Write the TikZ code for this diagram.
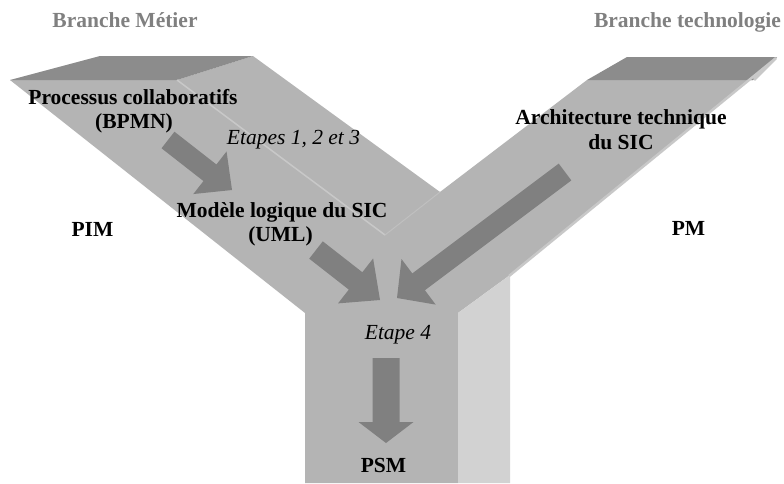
\documentclass[tikz,border=0pt]{standalone}
\usepackage{fontspec}
\setmainfont{Liberation Serif}
\usetikzlibrary{calc}
\definecolor{frontgray}{RGB}{180,180,180}
\definecolor{topgray}{RGB}{140,140,140}
\definecolor{sidegray}{RGB}{210,210,210}
\definecolor{ridgegray}{RGB}{200,200,200}
\definecolor{arrowgray}{RGB}{128,128,128}
\definecolor{headgray}{RGB}{128,128,128}
\newcommand\blockarrow[5]{% tail, tip, shaft half width, head half width, head length
  \coordinate (ba-n) at ($(#2)!#5!(#1)$);
  \fill[arrowgray] ($(#1)!#3!90:(#2)$) -- ($(ba-n)!#3!90:(#2)$) -- ($(ba-n)!#4!90:(#2)$)
    -- (#2) -- ($(ba-n)!#4!-90:(#2)$) -- ($(ba-n)!#3!-90:(#2)$) -- ($(#1)!#3!-90:(#2)$) -- cycle;
}
\begin{document}
\begin{tikzpicture}[x=1pt,y=-1pt,
  lbl/.style={inner sep=0pt, anchor=base, font=\fontsize{21.5pt}{24pt}\selectfont\bfseries},
  itlbl/.style={inner sep=0pt, anchor=base, font=\fontsize{21.5pt}{24pt}\selectfont\itshape},
  hdr/.style={lbl, text=headgray}]
\useasboundingbox (0,0) rectangle (784,483);
\fill[white] (0,0) rectangle (784,483);
% Y shape front faces
\fill[frontgray] (10,80) -- (177,80) -- (253,56) -- (440,192) -- (587,80) -- (753,80) -- (777,57)
  -- (510,275) -- (458,313) -- (458,483) -- (305,483) -- (305,313) -- cycle;
% top faces
\fill[topgray] (10,80) -- (100,56) -- (253,56) -- (177,80) -- cycle;
\fill[topgray] (587,80) -- (627,57) -- (777,57) -- (753,80) -- cycle;
% side face of stem
\fill[sidegray] (458,313) -- (510,275) -- (510,483) -- (458,483) -- cycle;
% edges
\draw[ridgegray, line width=1.5pt] (177,80) -- (385,235);
\draw[ridgegray!60!frontgray, line width=1pt] (440,192) -- (385,235);
\draw[ridgegray, line width=2.5pt] (754,80) -- (776,58) -- (509,276);
% block arrows
\coordinate (a1t) at (168,140); \coordinate (a1h) at (232,190);
\coordinate (a2t) at (316,250); \coordinate (a2h) at (380,300);
\coordinate (a3t) at (565,172); \coordinate (a3h) at (397,298);
\coordinate (a4t) at (386,358); \coordinate (a4h) at (386,443);
\blockarrow{a1t}{a1h}{10.5pt}{27pt}{28pt}
\blockarrow{a2t}{a2h}{11pt}{28.5pt}{31pt}
\blockarrow{a3t}{a3h}{10.5pt}{28.5pt}{27pt}
\blockarrow{a4t}{a4h}{13.5pt}{27.5pt}{21pt}
% labels
\node[hdr] (hm) at (125,27) {Branche Métier};
\node[hdr] (ht) at (687.5,27) {Branche technologie};
\node[lbl] (pc1) at (133,104) {Processus collaboratifs};
\node[lbl] (pc2) at (134,128) {(BPMN)};
\node[itlbl] (et1) at (293.5,144) {Etapes 1, 2 et 3};
\node[lbl] (ml1) at (282,217) {Modèle logique du SIC};
\node[lbl] (ml2) at (280.5,241) {(UML)};
\node[lbl] (pim) at (92.5,236) {PIM};
\node[lbl] (at1) at (621,124) {Architecture technique};
\node[lbl] (at2) at (621,149) {du SIC};
\node[lbl] (pm) at (688.5,235) {PM};
\node[itlbl] (et4) at (398,339) {Etape 4};
\node[lbl] (psm) at (383.5,472) {PSM};
\end{tikzpicture}
\end{document}
